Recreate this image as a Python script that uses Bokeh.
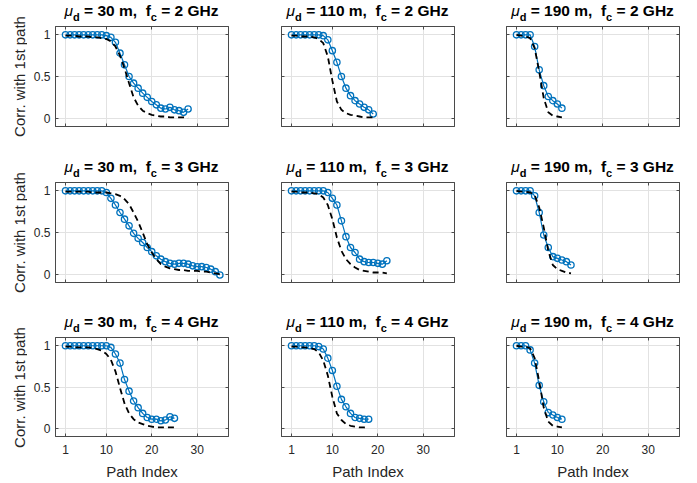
import math
from bokeh.plotting import figure
from bokeh.layouts import row, column
from bokeh.models import Label, LinearAxis, FixedTicker, Range1d, Div
from bokeh.embed import file_html
from bokeh.resources import INLINE

# ---------------- data ----------------
mu_d_m = [30, 110, 190]          # columns
f_c_ghz = [2, 3, 4]              # rows
x_ticks = [1, 10, 20, 30]
y_ticks = [0, 0.5, 1]
y_tick_labels = ["0", "0.5", "1"]
x_label = "Path Index"
y_label = "Corr. with 1st path"

# blue circles (measured) and black dashed (model); path index starts at 1
meas_30m_2ghz = [1.0, 1.0, 1.0, 1.0, 1.0, 1.0, 1.0, 1.0, 1.0, 0.99, 0.97, 0.91, 0.78, 0.64,
                 0.50, 0.42, 0.36, 0.30, 0.25, 0.20, 0.16, 0.12, 0.11, 0.13, 0.10, 0.09, 0.07, 0.11]
model_30m_2ghz = [0.99, 0.99, 0.99, 0.98, 0.98, 0.98, 0.97, 0.97, 0.96, 0.95, 0.92, 0.86, 0.75, 0.60,
                  0.42, 0.25, 0.15, 0.09, 0.06, 0.04, 0.03, 0.02, 0.02, 0.01, 0.01, 0.01, 0.01, 0.0]

meas_110m_2ghz = [1.0, 1.0, 1.0, 1.0, 1.0, 1.0, 1.0, 0.99, 0.94, 0.81, 0.67, 0.50, 0.36, 0.27,
                  0.21, 0.17, 0.13, 0.10, 0.05]
model_110m_2ghz = [0.99, 0.99, 0.98, 0.98, 0.98, 0.97, 0.95, 0.90, 0.74, 0.45, 0.20, 0.10, 0.06, 0.04,
                   0.03, 0.02, 0.01, 0.01, 0.01]

meas_190m_2ghz = [1.0, 1.0, 1.0, 1.0, 0.86, 0.58, 0.39, 0.26, 0.21, 0.17, 0.12]
model_190m_2ghz = [1.0, 0.99, 0.98, 0.96, 0.84, 0.56, 0.24, 0.07, 0.03, 0.02, 0.01]

meas_30m_3ghz = [1.0, 1.0, 1.0, 1.0, 1.0, 1.0, 1.0, 1.0, 1.0, 0.98, 0.91, 0.83, 0.74, 0.66, 0.58,
                 0.49, 0.43, 0.38, 0.32, 0.27, 0.22, 0.18, 0.15, 0.13, 0.12, 0.13, 0.13, 0.12, 0.10,
                 0.09, 0.09, 0.08, 0.06, 0.03, -0.01]
model_30m_3ghz = [0.99, 0.99, 0.99, 0.99, 0.99, 0.99, 0.98, 0.98, 0.98, 0.98, 0.97, 0.96, 0.94, 0.90,
                  0.84, 0.74, 0.63, 0.50, 0.36, 0.26, 0.18, 0.12, 0.09, 0.07, 0.06, 0.05, 0.05, 0.04,
                  0.04, 0.04, 0.03, 0.03, 0.02, 0.01, 0.0]

meas_110m_3ghz = [1.0, 1.0, 1.0, 1.0, 1.0, 1.0, 1.0, 1.0, 0.98, 0.91, 0.83, 0.64, 0.45, 0.32, 0.26,
                  0.18, 0.15, 0.14, 0.14, 0.13, 0.12, 0.16]
model_110m_3ghz = [0.99, 0.99, 0.98, 0.98, 0.98, 0.97, 0.96, 0.92, 0.83, 0.66, 0.44, 0.28, 0.18, 0.12,
                   0.08, 0.05, 0.04, 0.03, 0.02, 0.02, 0.02, 0.01]

meas_190m_3ghz = [1.0, 1.0, 1.0, 1.0, 0.94, 0.74, 0.47, 0.32, 0.21, 0.19, 0.17, 0.15, 0.11]
model_190m_3ghz = [1.0, 0.99, 0.99, 0.98, 0.95, 0.80, 0.56, 0.28, 0.11, 0.06, 0.04, 0.02, 0.01]

meas_30m_4ghz = [1.0, 1.0, 1.0, 1.0, 1.0, 1.0, 1.0, 1.0, 1.0, 1.0, 0.98, 0.90, 0.79, 0.59, 0.45,
                 0.33, 0.25, 0.18, 0.13, 0.11, 0.11, 0.09, 0.10, 0.14, 0.12]
model_30m_4ghz = [0.99, 0.99, 0.98, 0.98, 0.98, 0.98, 0.97, 0.96, 0.94, 0.90, 0.83, 0.69, 0.49, 0.30,
                  0.18, 0.11, 0.07, 0.05, 0.03, 0.02, 0.01, 0.01, 0.01, 0.01, 0.01]

meas_110m_4ghz = [1.0, 1.0, 1.0, 1.0, 1.0, 1.0, 0.99, 0.96, 0.85, 0.70, 0.51, 0.35, 0.26, 0.18,
                  0.13, 0.12, 0.11, 0.11]
model_110m_4ghz = [0.99, 0.99, 0.98, 0.98, 0.97, 0.96, 0.92, 0.82, 0.64, 0.38, 0.18, 0.10, 0.05, 0.03,
                   0.02, 0.01, 0.01, 0.0]

meas_190m_4ghz = [1.0, 1.0, 1.0, 0.95, 0.79, 0.52, 0.32, 0.19, 0.16, 0.13, 0.11]
model_190m_4ghz = [1.0, 0.99, 0.99, 0.97, 0.85, 0.57, 0.25, 0.08, 0.03, 0.02, 0.01]

panels = {
    (30, 2): (meas_30m_2ghz, model_30m_2ghz),
    (110, 2): (meas_110m_2ghz, model_110m_2ghz),
    (190, 2): (meas_190m_2ghz, model_190m_2ghz),
    (30, 3): (meas_30m_3ghz, model_30m_3ghz),
    (110, 3): (meas_110m_3ghz, model_110m_3ghz),
    (190, 3): (meas_190m_3ghz, model_190m_3ghz),
    (30, 4): (meas_30m_4ghz, model_30m_4ghz),
    (110, 4): (meas_110m_4ghz, model_110m_4ghz),
    (190, 4): (meas_190m_4ghz, model_190m_4ghz),
}

# ---------------- style / layout ----------------
FONT = "Liberation Sans"
BLUE = "#0072BD"
AX = "#4a4a4a"
TXT = "#262626"
GRID = "#e2e2e2"
X0, X1 = -1.2, 36.9
Y0, Y1 = -0.1, 1.1
FRAME_W, FRAME_H = 173, 100
YLAB_W = 27                       # column holding the rotated y label
COL_BORDER_L = [28, 47, 47]
COL_BORDER_R = [6, 5, 6]
STRIP_H = 22                      # title strip above each panel
PANEL_BORDER_T = 4
ROW_BORDER_B = [30, 29, 45]


def style_axis(ax, ticks, show_labels, overrides=None, standoff=5, label_standoff=7):
    ax.ticker = FixedTicker(ticks=ticks)
    ax.major_tick_in = 3
    ax.major_tick_out = 0
    ax.minor_tick_line_color = None
    ax.axis_line_color = AX
    ax.major_tick_line_color = AX
    ax.major_label_text_font = FONT
    ax.major_label_text_font_size = "12px"
    if show_labels:
        ax.major_label_text_color = TXT
        ax.major_label_standoff = standoff
        if overrides:
            ax.major_label_overrides = overrides
    else:
        ax.major_label_text_color = None
        ax.major_label_standoff = 0
    ax.axis_label_text_font = FONT
    ax.axis_label_text_font_size = "15px"
    ax.axis_label_text_font_style = "normal"
    ax.axis_label_text_color = TXT
    ax.axis_label_standoff = label_standoff


def make_title(r, c):
    mu = mu_d_m[c]
    fc = f_c_ghz[r]
    bl, br = COL_BORDER_L[c], COL_BORDER_R[c]
    sub = "font-size:11px;position:relative;top:5px;"
    html = (
        '<div style="margin-left:%dpx;width:%dpx;padding-top:3px;text-align:center;'
        'white-space:nowrap;font-family:\'Liberation Sans\';font-size:15.5px;'
        'font-weight:bold;line-height:16px;color:#000;">'
        '<span style="font-style:italic;font-weight:normal;">\u03bc</span>'
        '<span style="%s">d</span> = %d m,&nbsp; f<span style="%s">c</span> = %d GHz</div>'
        % (bl, FRAME_W, sub, mu, sub, fc)
    )
    return Div(text=html, width=bl + FRAME_W + br, height=STRIP_H, margin=(0, 0, 0, 0))


def make_panel(r, c):
    mu = mu_d_m[c]
    fc = f_c_ghz[r]
    meas, model = panels[(mu, fc)]
    idx = list(range(1, len(meas) + 1))
    bl, br = COL_BORDER_L[c], COL_BORDER_R[c]
    bt, bb = PANEL_BORDER_T, ROW_BORDER_B[r]
    p = figure(width=bl + FRAME_W + br, height=bt + FRAME_H + bb,
               output_backend="svg", toolbar_location=None, tools="",
               x_range=Range1d(X0, X1), y_range=Range1d(Y0, Y1),
               min_border_left=bl, min_border_right=br,
               min_border_top=bt, min_border_bottom=bb)
    p.title.text = ""
    p.outline_line_color = AX
    p.background_fill_color = "white"
    p.border_fill_color = "white"

    style_axis(p.xaxis[0], x_ticks, r == 2, standoff=8, label_standoff=6)
    style_axis(p.yaxis[0], y_ticks, c == 0, dict(zip(y_ticks, y_tick_labels)), standoff=5)
    if r == 2:
        p.xaxis[0].axis_label = x_label

    top = LinearAxis()
    style_axis(top, x_ticks, False)
    p.add_layout(top, "above")
    right = LinearAxis()
    style_axis(right, y_ticks, False)
    p.add_layout(right, "right")

    p.xgrid.ticker = FixedTicker(ticks=x_ticks)
    p.ygrid.ticker = FixedTicker(ticks=y_ticks)
    p.xgrid.grid_line_color = GRID
    p.ygrid.grid_line_color = GRID

    p.line(idx, meas, line_color=BLUE, line_width=1.2)
    p.scatter(idx, meas, marker="circle", size=6.3, fill_color=None,
              line_color=BLUE, line_width=1.3)
    p.line(idx, model, line_color="black", line_width=1.8, line_dash="6 4")
    return p


def make_ylabel(r):
    h = STRIP_H + PANEL_BORDER_T + FRAME_H + ROW_BORDER_B[r]
    f = figure(width=YLAB_W, height=h, output_backend="svg", toolbar_location=None,
               tools="", x_range=Range1d(0, 1), y_range=Range1d(0, 1),
               x_axis_location=None, y_axis_location=None, min_border=0,
               min_border_left=0, min_border_right=0, min_border_top=0, min_border_bottom=0)
    f.title.text = ""
    f.outline_line_color = None
    f.xgrid.grid_line_color = None
    f.ygrid.grid_line_color = None
    f.background_fill_color = "white"
    f.border_fill_color = "white"
    yc = h - (STRIP_H + PANEL_BORDER_T + FRAME_H / 2.0)
    f.add_layout(Label(x=19, y=yc, x_units="screen", y_units="screen", text=y_label,
                       angle=math.pi / 2, text_font=FONT, text_font_size="15px",
                       text_color=TXT, text_align="center", text_baseline="middle"))
    return f


blocks = []
for r in range(3):
    blocks.append(row([make_title(r, c) for c in range(3)], spacing=0))
    blocks.append(row([make_panel(r, c) for c in range(3)], spacing=0))
main = column(blocks, spacing=0)
labels_col = column([make_ylabel(r) for r in range(3)], spacing=0)
layout = row([labels_col, main], spacing=0)

open("out.html", "w").write(file_html(layout, INLINE))
